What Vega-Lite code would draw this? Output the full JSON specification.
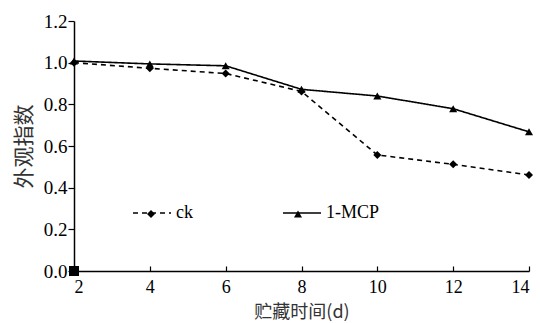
{
  "$schema": "https://vega.github.io/schema/vega-lite/v6.json",
  "width": 455,
  "height": 250,
  "autosize": {"type": "none"},
  "padding": {"left": 74, "top": 21, "right": 12, "bottom": 52},
  "background": "white",
  "config": {
    "view": {"stroke": null},
    "axis": {"domainColor": "black", "tickColor": "black", "domainWidth": 1.5, "tickWidth": 1.2, "grid": false,
      "labelFont": "Liberation Serif", "labelColor": "black",
      "titleFont": "Noto Sans CJK SC", "titleFontWeight": "normal", "titleColor": "#333"}
  },
  "data": {"values": [
    {"d": 2, "v": 1.0, "s": "ck"},
    {"d": 4, "v": 0.973, "s": "ck"},
    {"d": 6, "v": 0.948, "s": "ck"},
    {"d": 8, "v": 0.862, "s": "ck"},
    {"d": 10, "v": 0.557, "s": "ck"},
    {"d": 12, "v": 0.512, "s": "ck"},
    {"d": 14, "v": 0.461, "s": "ck"},
    {"d": 2, "v": 1.008, "s": "1-MCP"},
    {"d": 4, "v": 0.994, "s": "1-MCP"},
    {"d": 6, "v": 0.985, "s": "1-MCP"},
    {"d": 8, "v": 0.872, "s": "1-MCP"},
    {"d": 10, "v": 0.84, "s": "1-MCP"},
    {"d": 12, "v": 0.779, "s": "1-MCP"},
    {"d": 14, "v": 0.668, "s": "1-MCP"}
  ]},
  "layer": [
    {
      "mark": {"type": "line", "color": "black", "strokeWidth": 1.6},
      "encoding": {
        "x": {"field": "d", "type": "quantitative",
          "scale": {"domain": [2, 14], "nice": false, "zero": false},
          "axis": {"values": [2, 4, 6, 8, 10, 12, 14], "labelFontSize": 18, "tickSize": -5, "labelPadding": 12, "title": "贮藏时间(d)", "titleFontSize": 18, "titlePadding": 7}},
        "y": {"field": "v", "type": "quantitative",
          "scale": {"domain": [0, 1.2], "nice": false},
          "axis": {"values": [0, 0.2, 0.4, 0.6, 0.8, 1.0, 1.2], "labelFontSize": 19, "format": ".1f", "tickSize": 6, "labelPadding": 1, "title": "外观指数", "titleFontSize": 21, "titlePadding": 9}},
        "strokeDash": {"field": "s", "type": "nominal",
          "scale": {"domain": ["ck", "1-MCP"], "range": [[5, 4], [1, 0]]},
          "legend": {"orient": "none", "legendX": 58, "legendY": 172, "direction": "horizontal", "title": null,
            "gridAlign": "all",
            "symbolSize": 1444, "symbolStrokeWidth": 1.6, "symbolStrokeColor": "black",
            "labelFont": "Liberation Serif", "labelFontSize": 18, "labelColor": "black", "labelOffset": 4,
            "columnPadding": 49}}
      }
    },
    {
      "mark": {"type": "point", "filled": true, "color": "black", "size": 65, "opacity": 1},
      "encoding": {
        "x": {"field": "d", "type": "quantitative"},
        "y": {"field": "v", "type": "quantitative"},
        "shape": {"field": "s", "type": "nominal", "sort": ["ck", "1-MCP"],
          "scale": {"range": ["diamond", "triangle-up"]},
          "legend": {"orient": "none", "legendX": 68, "legendY": 184, "direction": "horizontal", "title": null,
            "gridAlign": "all", "labelExpr": "''",
            "symbolSize": 65, "symbolFillColor": "black", "symbolStrokeColor": "black",
            "labelFontSize": 18, "labelOffset": 24,
            "columnPadding": 105}}
      }
    },
    {
      "data": {"values": [{"d": 2, "v": 0}]},
      "mark": {"type": "point", "shape": "square", "filled": true, "color": "black", "size": 100, "opacity": 1},
      "encoding": {
        "x": {"field": "d", "type": "quantitative"},
        "y": {"field": "v", "type": "quantitative"}
      }
    }
  ]
}
